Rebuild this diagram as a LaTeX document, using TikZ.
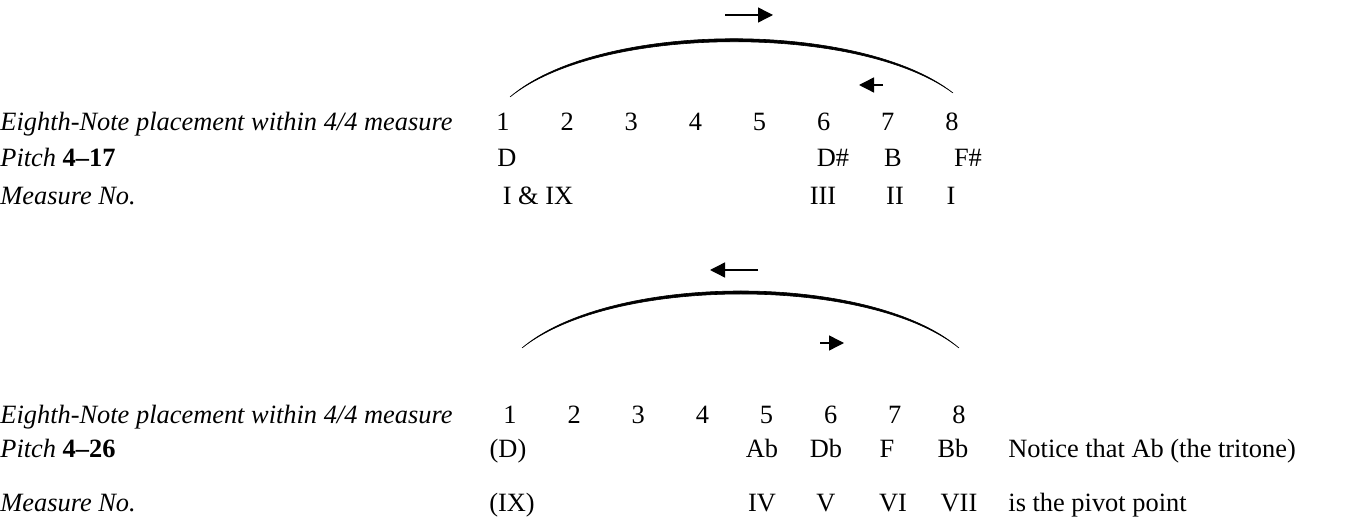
\documentclass[tikz,border=0pt]{standalone}
\usepackage{fontspec}
\setmainfont{Liberation Serif}
\usetikzlibrary{arrows.meta, positioning}
\newcommand{\rowfont}{\fontsize{13.2}{15}\selectfont}

\begin{document}
\begin{tikzpicture}[x=0.5pt, y=-0.5pt, >={Triangle[length=7.5pt, width=7.5pt]},
    lbl/.style={anchor=base west, inner sep=0pt, font=\rowfont\itshape},
    cell/.style={anchor=base, inner sep=0pt, font=\rowfont},
    note/.style={anchor=base west, inner sep=0pt, font=\rowfont},
    swing/.style={fill=black, draw=black, line width=0.3pt},
    dir/.style={->, line width=0.7pt}]
    \useasboundingbox (0,0) rectangle (1360,523);

    % --- set 4-17 ---
    \draw[swing] (510,97) .. controls (600,20) and (860,20) .. (953,93)
        .. controls (860,24) and (600,24) .. (510,97);
    \coordinate (ta) at (725,15);  \coordinate (tb) at (773,15);
    \coordinate (tc) at (883,85);  \coordinate (td) at (859,85);
    \draw[dir] (ta) -- (tb);
    \draw[dir] (tc) -- (td);
    \node[lbl] (eighthA) at (0,131) {Eighth-Note placement within 4/4 measure};
    \node[lbl] (pitchA) at (0,167) {Pitch \textbf{\upshape 4--17}};
    \node[lbl] (measA) at (0,205) {Measure No.};
    \foreach \i in {1,...,8}
        \node[cell] (a\i) at ({503+64.14*(\i-1)},131) {\i};
    \node[cell] (pa1) at (507,167) {D};
    \node[cell] (pa6) at (833,167) {D\#};
    \node[cell] (pa7) at (893,167) {B};
    \node[cell] (pa8) at (968,167) {F\#};
    \node[cell] (ma1) at (538,205) {I \& IX};
    \node[cell] (ma6) at (823,205) {III};
    \node[cell] (ma7) at (895,205) {II};
    \node[cell] (ma8) at (951,205) {I};

    % --- set 4-26 ---
    \draw[swing] (522,348) .. controls (612,272) and (870,272) .. (959,348)
        .. controls (870,276) and (612,276) .. (522,348);
    \coordinate (ba) at (758,270); \coordinate (bb) at (710,270);
    \coordinate (bc) at (820,343); \coordinate (bd) at (844,343);
    \draw[dir] (ba) -- (bb);
    \draw[dir] (bc) -- (bd);
    \node[lbl] (eighthB) at (0,423) {Eighth-Note placement within 4/4 measure};
    \node[lbl] (pitchB) at (0,458) {Pitch \textbf{\upshape 4--26}};
    \node[lbl] (measB) at (0,511) {Measure No.};
    \foreach \i in {1,...,8}
        \node[cell] (b\i) at ({510+64.14*(\i-1)},423) {\i};
    \node[cell] (pb1) at (508,458) {(D)};
    \node[cell] (pb5) at (762,458) {Ab};
    \node[cell] (pb6) at (826,458) {Db};
    \node[cell] (pb7) at (887,458) {F};
    \node[cell] (pb8) at (953,458) {Bb};
    \node[cell] (mb1) at (512,511) {(IX)};
    \node[cell] (mb5) at (762,511) {IV};
    \node[cell] (mb6) at (826,511) {V};
    \node[cell] (mb7) at (893,511) {VI};
    \node[cell] (mb8) at (959,511) {VII};
    \node[note] (tritone) at (1008,458) {Notice that Ab (the tritone)};
    \node[note] (pivot) at (1008,511) {is the pivot point};
\end{tikzpicture}
\end{document}
